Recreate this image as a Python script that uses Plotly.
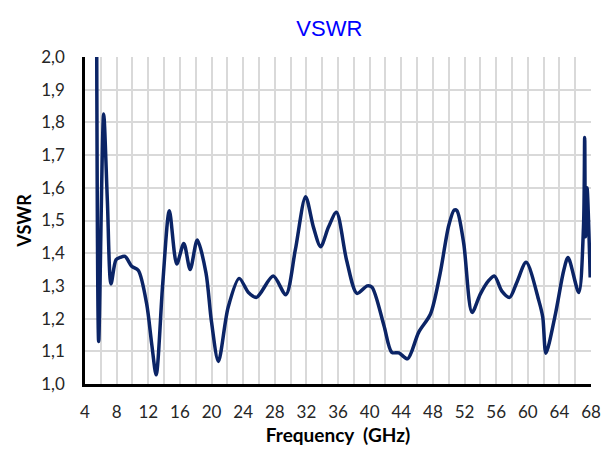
import plotly.graph_objects as go

freq_ghz = [5.45, 5.73, 6.36, 6.83, 7.29, 7.92, 8.43, 9.06, 9.9, 10.75, 11.8, 12.44, 13.0,
            13.83, 14.67, 15.6, 16.5, 17.3, 18.2, 19.3, 20.0, 20.87, 22.1, 23.5, 24.67,
            25.7, 27.8, 29.4, 30.6, 31.9, 32.9, 33.8, 34.8, 35.8, 37.1, 38.4, 39.7, 40.3,
            41.8, 42.8, 43.7, 44.8, 46.2, 47.7, 48.9, 50.0, 50.7, 51.05, 51.9, 52.95,
            54.0, 55.05, 55.8, 56.7, 57.7, 58.6, 59.8, 61.4, 61.9, 62.3, 63.5, 64.55,
            65.1, 66.45, 67.05, 67.2, 67.3, 67.5, 67.9]
vswr = [2.3, 1.13, 1.826, 1.56, 1.306, 1.38, 1.387, 1.39, 1.36, 1.347, 1.245, 1.122, 1.028,
        1.306, 1.53, 1.367, 1.43, 1.35, 1.44, 1.34, 1.19, 1.069, 1.234, 1.323, 1.28,
        1.265, 1.33, 1.273, 1.41, 1.573, 1.479, 1.42, 1.48, 1.525, 1.377, 1.277, 1.30, 1.296,
        1.18, 1.097, 1.095, 1.077, 1.158, 1.214, 1.336, 1.484, 1.532, 1.53, 1.43, 1.219,
        1.275, 1.316, 1.33, 1.285, 1.265, 1.31, 1.372, 1.255, 1.204, 1.094, 1.214, 1.347,
        1.387, 1.28, 1.48, 1.754, 1.45, 1.60, 1.326]

x_ticks = list(range(4, 69, 4))
y_ticks = [1.0, 1.1, 1.2, 1.3, 1.4, 1.5, 1.6, 1.7, 1.8, 1.9, 2.0]

font_main = "Lato, 'Open Sans', sans-serif"
grid_col = "#D9D9D9"

fig = go.Figure()
fig.add_trace(go.Scatter(
    x=freq_ghz, y=vswr, mode="lines",
    line=dict(color="#0B2466", width=3.5, shape="spline", smoothing=0.8),
    showlegend=False, hoverinfo="x+y",
))

fig.update_layout(
    width=602, height=453,
    margin=dict(l=85, r=11, t=57, b=69, autoexpand=False),
    paper_bgcolor="white", plot_bgcolor="white",
    separators=",.",
    title=dict(text="VSWR", x=0.547, xanchor="center", y=1 - 28 / 453, yanchor="middle",
               font=dict(family="'Liberation Sans', Arial, sans-serif", size=22, color="#0000FF")),
    xaxis=dict(
        range=[4, 68], tickmode="array", tickvals=x_ticks,
        ticktext=[str(v) for v in x_ticks],
        showgrid=True, gridcolor=grid_col, gridwidth=2,
        minor=dict(dtick=2, tick0=4, showgrid=True, gridcolor=grid_col, gridwidth=2),
        showline=True, linecolor="black", linewidth=2.5,
        ticks="", ticklabelstandoff=11, automargin=False, ticklabeloverflow="allow",
        tickfont=dict(family=font_main, size=17, color="#262626"),
        zeroline=False,
        title=dict(text="<b>Frequency  (GHz)</b>", standoff=8,
                   font=dict(family=font_main, size=19, color="black")),
    ),
    yaxis=dict(
        range=[1.0, 2.0], tickmode="array", tickvals=y_ticks,
        ticktext=[f"{v:.1f}".replace(".", ",") for v in y_ticks],
        showgrid=True, gridcolor=grid_col, gridwidth=2,
        showline=True, linecolor="black", linewidth=2.5,
        ticks="", ticklabelstandoff=14, automargin=False, ticklabeloverflow="allow",
        tickfont=dict(family=font_main, size=17, color="#262626"),
        zeroline=False,
        title=dict(text="<b>VSWR</b>", standoff=5,
                   font=dict(family=font_main, size=18, color="black")),
    ),
)

# remove the default 8px page margin so the figure fills the window exactly
fig.write_html(
    "out.html",
    config={"displayModeBar": False},
    post_script="document.body.style.margin='0';document.body.style.overflow='hidden';",
)
